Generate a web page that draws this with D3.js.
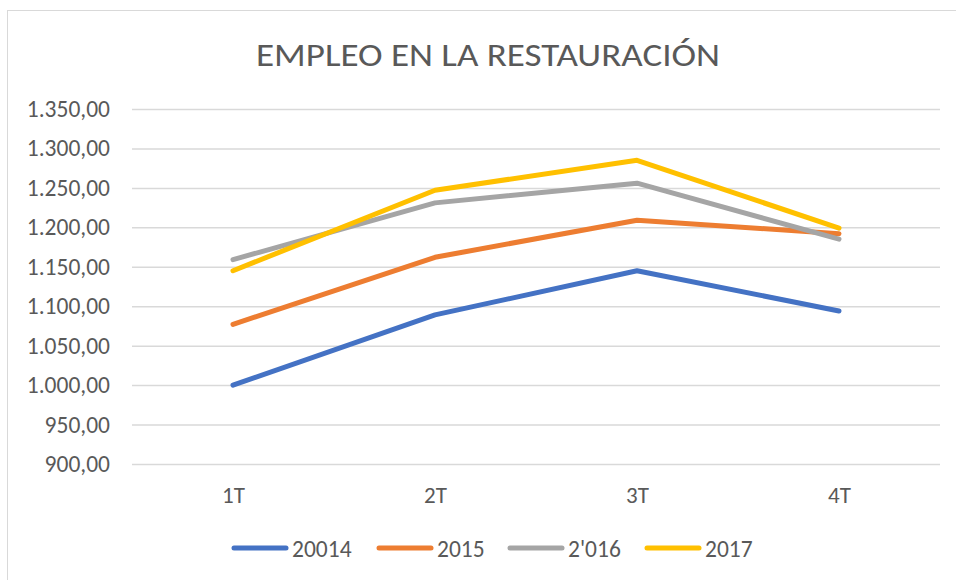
<!DOCTYPE html>
<html>
<head>
<meta charset="utf-8">
<script src="https://cdn.jsdelivr.net/npm/d3@7"></script>
<style>
  body { margin: 0; background: #fff; }
  text { font-family: Carlito, "Liberation Sans", Arial, sans-serif; fill: #595959; }
</style>
</head>
<body>
<svg width="956" height="580"></svg>
<script>
// data
const quarters = ['1T', '2T', '3T', '4T'];
const seriesNames = ['20014', '2015', "2'016", '2017'];
const s20014 = [1000, 1089, 1145, 1094];
const s2015 = [1077, 1162, 1209, 1192];
const s2016 = [1159, 1231, 1256, 1185];
const s2017 = [1145, 1247, 1285, 1199];
const yTicks = [900, 950, 1000, 1050, 1100, 1150, 1200, 1250, 1300, 1350];
const colors = ['#4472C4', '#ED7D31', '#A5A5A5', '#FFC000'];

const series = [s20014, s2015, s2016, s2017].map((values, i) => ({
    name: seriesNames[i], color: colors[i], values
}));

const svg = d3.select('svg');

// chart area border
svg.append('rect')
    .attr('x', 7.5).attr('y', 10.5)
    .attr('width', 960).attr('height', 580)
    .attr('fill', 'none')
    .attr('stroke', '#d9d9d9');

const margin = { left: 132, right: 16, top: 109, bottom: 116 };
const width = 956 - margin.left - margin.right;
const height = 580 - margin.top - margin.bottom;

const g = svg.append('g')
    .attr('transform', `translate(${margin.left},${margin.top})`);

const x = d3.scalePoint()
    .domain(quarters)
    .range([0, width])
    .padding(0.5);

const y = d3.scaleLinear()
    .domain([900, 1350])
    .range([height, 0]);

const fmt = d3.formatLocale({ decimal: ',', thousands: '.', grouping: [3], currency: ['', '€'] })
    .format(',.2f');

// gridlines + y labels
const yAxis = g.append('g')
    .call(d3.axisLeft(y).tickValues(yTicks).tickSize(-width).tickPadding(22).tickFormat(fmt));
yAxis.select('.domain').remove();
yAxis.selectAll('line').attr('stroke', '#d9d9d9').attr('stroke-width', 1.5);
yAxis.selectAll('text').attr('font-size', 23.5).attr('fill', '#595959');

// x labels
const xAxis = g.append('g')
    .attr('transform', `translate(0,${height})`)
    .call(d3.axisBottom(x).tickSize(0));
xAxis.select('.domain').remove();
xAxis.selectAll('text')
    .attr('y', 39).attr('dy', null)
    .attr('font-size', 23).attr('fill', '#595959');

// lines
const line = d3.line()
    .x((d, i) => x(quarters[i]))
    .y(d => y(d));

g.selectAll('.series')
    .data(series)
    .join('path')
        .attr('class', 'series')
        .attr('d', d => line(d.values))
        .attr('fill', 'none')
        .attr('stroke', d => d.color)
        .attr('stroke-width', 5)
        .attr('stroke-linejoin', 'round')
        .attr('stroke-linecap', 'round');

// title
svg.append('text')
    .attr('x', 488).attr('y', 66)
    .attr('text-anchor', 'middle')
    .attr('font-size', 33)
    .attr('textLength', 464)
    .attr('lengthAdjust', 'spacingAndGlyphs')
    .text('EMPLEO EN LA RESTAURACIÓN');

// legend
const legendX = [232, 377, 508, 645];
const legend = svg.append('g').attr('transform', 'translate(0,548)');
const item = legend.selectAll('g')
    .data(series)
    .join('g')
        .attr('transform', (d, i) => `translate(${legendX[i]},0)`);
item.append('line')
    .attr('x1', 2).attr('x2', 54)
    .attr('stroke', d => d.color)
    .attr('stroke-width', 5)
    .attr('stroke-linecap', 'round');
item.append('text')
    .attr('x', 60).attr('y', 9)
    .attr('font-size', 23.5)
    .text(d => d.name);
</script>
</body>
</html>
